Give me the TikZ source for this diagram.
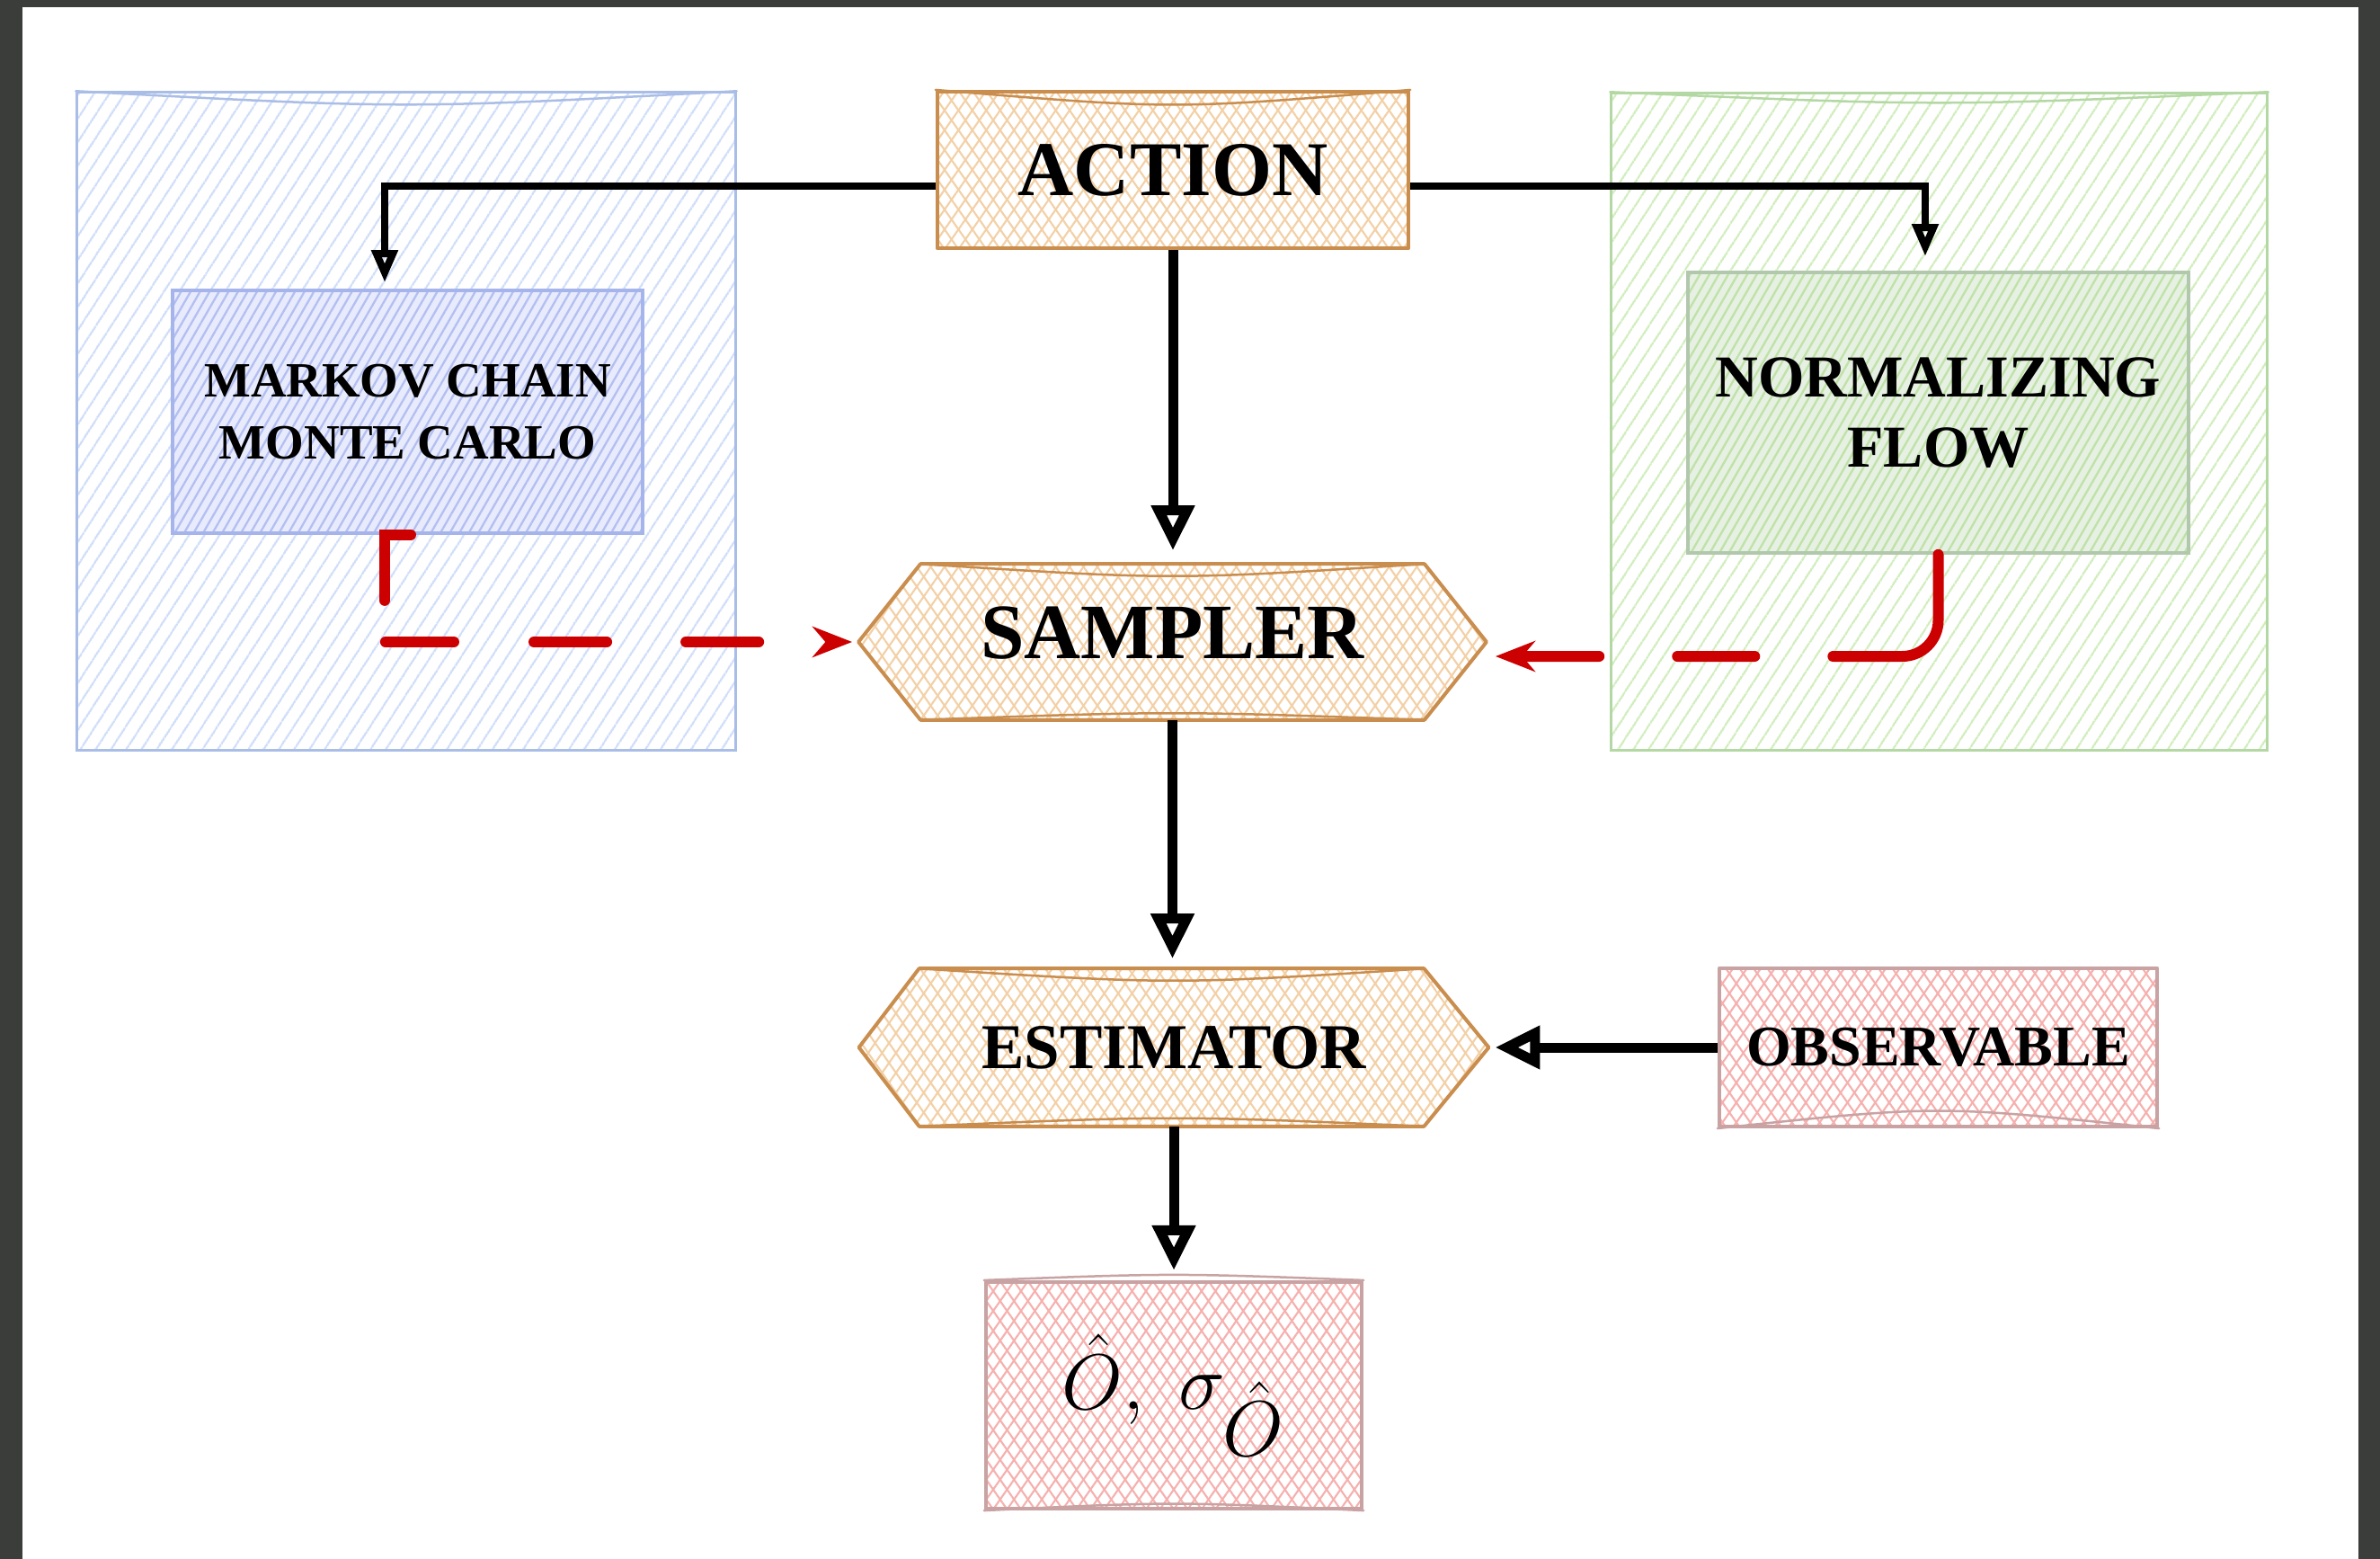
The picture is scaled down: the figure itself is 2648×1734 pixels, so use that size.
\documentclass[tikz,border=0pt]{standalone}
\usepackage{fontspec}
\setmainfont{Liberation Serif}
\usetikzlibrary{arrows.meta,patterns.meta,calc}
\pgfdeclarelayer{background}
\pgfdeclarelayer{page}
\pgfsetlayers{page,background,main}

\definecolor{frameGray}{HTML}{3B3D3A}
\definecolor{blueEdge}{HTML}{A9BDE6}
\definecolor{blueHatch}{HTML}{CFDDF9}
\definecolor{mcmcEdge}{HTML}{A6B4EC}
\definecolor{mcmcHatch}{HTML}{B3BFF2}
\definecolor{mcmcTint}{HTML}{E8EBFC}
\definecolor{greenEdge}{HTML}{B3D8A3}
\definecolor{greenHatch}{HTML}{D0EDBC}
\definecolor{nfEdge}{HTML}{B2C8AD}
\definecolor{nfHatch}{HTML}{BFE2A6}
\definecolor{nfTint}{HTML}{E6F0E3}
\definecolor{orangeEdge}{HTML}{C98D4E}
\definecolor{orangeHatch}{HTML}{F3D0A6}
\definecolor{redEdge}{HTML}{C9A3A3}
\definecolor{redHatch}{HTML}{F6B0AE}
\definecolor{flowRed}{HTML}{CC0000}

\tikzset{
  % single-direction hachure used by the two group panels
  grouppanel/.style 2 args={draw=#1, line width=0.03cm, inner sep=0pt,
    preaction={pattern={Lines[angle=57,distance=4pt,line width=0.65pt]}, pattern color=#2}},
  % tinted, denser hachure for the method boxes
  methodbox/.style n args={3}{draw=#1, line width=0.035cm, inner sep=0pt,
    align=center, font=\bfseries,
    preaction={fill=#3},
    preaction={pattern={Lines[angle=60,distance=2.6pt,line width=0.65pt]}, pattern color=#2}},
  % cross-hatched fill for the process blocks
  crosshatch/.style 2 args={draw=#1, line width=0.04cm, line join=round,
    preaction={pattern={Lines[angle=55,distance=3.6pt,line width=0.6pt]}, pattern color=#2},
    preaction={pattern={Lines[angle=-55,distance=3.6pt,line width=0.6pt]}, pattern color=#2}},
  % second, hand-drawn looking stroke along an edge
  sketchline/.style={draw=#1, line width=0.025cm, line cap=round},
  textblock/.style={inner sep=0pt, align=center, font=\bfseries},
  flow/.style={draw=black, line width=0.08cm,
    -{Triangle[open, length=0.36cm, width=0.28cm]}},
  mainflow/.style={draw=black, line width=0.11cm,
    -{Triangle[open, length=0.50cm, width=0.46cm]}},
  feed/.style={draw=flowRed, line width=0.12cm, line cap=round,
    -{Stealth[length=0.44cm, width=0.34cm]}},
}

\begin{document}
\begin{tikzpicture}[x=0.01cm, y=-0.01cm]
  \useasboundingbox (0,0) rectangle (2648,1734);
  % page frame
  \begin{pgfonlayer}{page}
    \fill[frameGray] (0,0) rectangle (2648,1734);
    \fill[white] (25,8) rectangle (2624,1734);
  \end{pgfonlayer}

  % group panels
  \node[grouppanel={blueEdge}{blueHatch}, minimum width=7.32cm, minimum height=7.31cm]
    (mcmcgroup) at (452,468.5) {};
  \node[grouppanel={greenEdge}{greenHatch}, minimum width=7.29cm, minimum height=7.30cm]
    (nfgroup) at (2157.5,469) {};

  % method boxes
  \node[methodbox={mcmcEdge}{mcmcHatch}{mcmcTint}, minimum width=5.23cm, minimum height=2.70cm,
        font=\bfseries\fontsize{15.6pt}{19.6pt}\selectfont]
    (mcmc) at (453.5,458) {MARKOV CHAIN\\MONTE CARLO};
  \node[methodbox={nfEdge}{nfHatch}{nfTint}, minimum width=5.57cm, minimum height=3.12cm,
        font=\bfseries\fontsize{18.8pt}{22.2pt}\selectfont]
    (nf) at (2156.5,459) {NORMALIZING\\FLOW};

  % process blocks
  \node[crosshatch={orangeEdge}{orangeHatch}, textblock, minimum width=5.24cm, minimum height=1.74cm,
        font=\bfseries\fontsize{24.5pt}{29pt}\selectfont]
    (action) at (1305,189) {ACTION};
  \node[textblock, minimum width=6.97cm, minimum height=1.72cm, text depth=0.2cm,
        font=\bfseries\fontsize{24.8pt}{29pt}\selectfont]
    (sampler) at (1304.5,714) {SAMPLER};
  \node[textblock, minimum width=6.99cm, minimum height=1.74cm,
        font=\bfseries\fontsize{20.2pt}{24pt}\selectfont]
    (estimator) at (1306,1165) {ESTIMATOR};
  \node[crosshatch={redEdge}{redHatch}, textblock, minimum width=4.87cm, minimum height=1.76cm,
        font=\bfseries\fontsize{18.2pt}{22pt}\selectfont]
    (observable) at (2156.5,1165) {OBSERVABLE};
  \node[crosshatch={redEdge}{redHatch}, textblock, minimum width=4.18cm, minimum height=2.52cm,
        font=\fontsize{34pt}{40pt}\selectfont]
    (result) at (1306,1552) {$\hat{O},\;\sigma_{\hat{O}}$};

  % hexagonal outlines of the sampler and estimator
  \begin{pgfonlayer}{background}
    \path[crosshatch={orangeEdge}{orangeHatch}]
      (sampler.west) -- ($(sampler.north west)+(69,0)$) -- ($(sampler.north east)+(-69,0)$)
      -- (sampler.east) -- ($(sampler.south east)+(-69,0)$) -- ($(sampler.south west)+(69,0)$) -- cycle;
    \path[crosshatch={orangeEdge}{orangeHatch}]
      (estimator.west) -- ($(estimator.north west)+(67,0)$) -- ($(estimator.north east)+(-72,0)$)
      -- (estimator.east) -- ($(estimator.south east)+(-72,0)$) -- ($(estimator.south west)+(67,0)$) -- cycle;
  \end{pgfonlayer}

  % doubled, slightly sagging strokes along some edges
  \draw[sketchline=blueEdge] (mcmcgroup.north west)
    .. controls ($(mcmcgroup.north)+(0,20)$) .. (mcmcgroup.north east);
  \draw[sketchline=greenEdge] (nfgroup.north west)
    .. controls ($(nfgroup.north)+(0,16)$) .. (nfgroup.north east);
  \draw[sketchline=orangeEdge] (action.north west)
    .. controls ($(action.north)+(0,22)$) .. (action.north east);
  \draw[sketchline=orangeEdge] ($(sampler.north west)+(69,0)$)
    .. controls ($(sampler.north)+(0,18)$) .. ($(sampler.north east)+(-69,0)$);
  \draw[sketchline=orangeEdge] ($(sampler.south west)+(69,0)$)
    .. controls ($(sampler.south)+(0,-10)$) .. ($(sampler.south east)+(-69,0)$);
  \draw[sketchline=orangeEdge] ($(estimator.north west)+(67,0)$)
    .. controls ($(estimator.north)+(0,18)$) .. ($(estimator.north east)+(-72,0)$);
  \draw[sketchline=orangeEdge] ($(estimator.south west)+(67,0)$)
    .. controls ($(estimator.south)+(0,-12)$) .. ($(estimator.south east)+(-72,0)$);
  \draw[sketchline=redEdge] (observable.south west)
    .. controls ($(observable.south)+(0,-26)$) .. (observable.south east);
  \draw[sketchline=redEdge] (result.north west)
    .. controls ($(result.north)+(0,-8)$) .. (result.north east);
  \draw[sketchline=redEdge] (result.south west)
    .. controls ($(result.south)+(0,-10)$) .. (result.south east);

  % connectors
  \draw[flow, shorten >=0.07cm] ([yshift=-0.18cm]action.west) -| ([xshift=-0.255cm]mcmc.north);
  \draw[flow, shorten >=0.16cm] ([yshift=-0.18cm]action.east) -| ([xshift=-0.145cm]nf.north);
  \draw[mainflow, shorten >=0.15cm] (action.south) -- (action.south |- sampler.north);
  \draw[mainflow, shorten >=0.11cm] (sampler.south) -- (sampler.south |- estimator.north);
  \draw[mainflow, shorten >=0.07cm] (observable.west) -- (estimator.east);
  \draw[mainflow, shorten >=0.11cm] (estimator.south) -- (result.north);

  % feedback into the sampler
  \draw[feed, shorten >=0.07cm,
        dash pattern=on 1.02cm off 0.47cm on 0.76cm off 0.89cm on 0.81cm off 0.88cm on 0.81cm off 3cm]
    ([xshift=0.035cm]mcmc.south) -- ++(-29,0) |- (sampler.west);
  \draw[feed, rounded corners=0.4cm, shorten >=0.1cm,
        dash pattern=on 2.13cm off 0.87cm on 0.86cm off 0.87cm on 0.92cm off 3cm]
    (nf.south) |- ([yshift=-0.16cm]sampler.east);
\end{tikzpicture}
\end{document}
